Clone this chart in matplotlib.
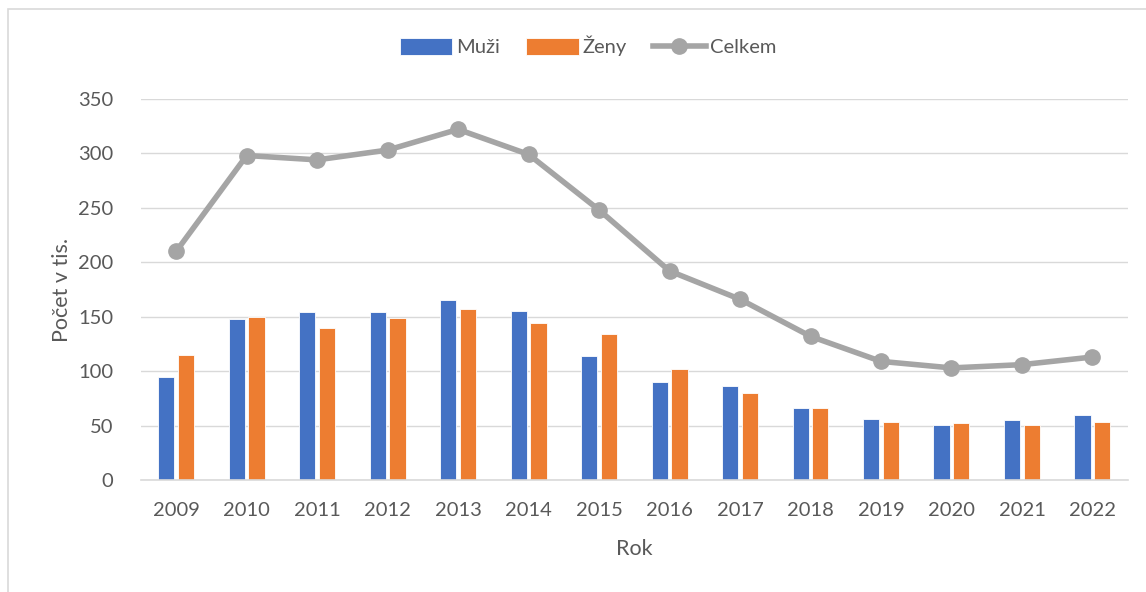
import matplotlib
matplotlib.use("Agg")
import matplotlib.pyplot as plt
import numpy as np
from matplotlib.patches import Rectangle

years = ["2009", "2010", "2011", "2012", "2013", "2014", "2015",
         "2016", "2017", "2018", "2019", "2020", "2021", "2022"]
muzi = [95, 148, 154, 154, 165, 155, 114, 90, 86, 66, 56, 51, 55, 60]
zeny = [115, 150, 140, 149, 157, 144, 134, 102, 80, 66, 53, 52, 51, 53]
celkem = [210, 298, 294, 303, 322, 299, 248, 192, 166, 132, 109, 103, 106, 113]

plt.rcParams["font.family"] = ["Lato", "DejaVu Sans"]
text_col = "#595959"

fig = plt.figure(figsize=(11.46, 5.92), dpi=100)
ax = fig.add_axes([0.123, 0.189, 0.861, 0.644])

x = np.arange(len(years))
w = 0.23
b1 = ax.bar(x - 0.14, muzi, w, color="#4472C4", edgecolor="white",
            linewidth=0.6, label="Muži", zorder=2)
b2 = ax.bar(x + 0.14, zeny, w, color="#ED7D31", edgecolor="white",
            linewidth=0.6, label="Ženy", zorder=2)
l1, = ax.plot(x, celkem, color="#A5A5A5", linewidth=4, marker="o",
              markersize=11, label="Celkem", zorder=3)

ax.set_xlim(-0.5, len(years) - 0.5)
ax.set_ylim(0, 350)
ax.set_yticks(range(0, 351, 50))
ax.set_xticks(x)
ax.set_xticklabels(years)
ax.tick_params(length=0, labelsize=14.5, colors=text_col, pad=16)
ax.tick_params(axis="y", pad=20)
ax.grid(axis="y", color="#D9D9D9", linewidth=1, zorder=0)
for s in ["top", "right", "left"]:
    ax.spines[s].set_visible(False)
ax.spines["bottom"].set_color("#D9D9D9")
ax.spines["bottom"].set_linewidth(1.2)

ax.set_xlabel("Rok", fontsize=15.5, color=text_col, labelpad=14)
ax.set_ylabel("Počet v tis.", fontsize=15.5, color=text_col, labelpad=4)

leg = fig.legend([b1, b2, l1], ["Muži", "Ženy", "Celkem"], loc="center",
                 bbox_to_anchor=(0.513, 1 - 46 / 592), ncol=3,
                 frameon=False, fontsize=14.5, handlelength=2.6,
                 handleheight=0.9, columnspacing=1.3, handletextpad=0.2)
for t in leg.get_texts():
    t.set_color(text_col)

fig.patches.append(Rectangle((8 / 1146, -0.01), 1.0, 1 - 9 / 592 + 0.01,
                             transform=fig.transFigure, fill=False,
                             edgecolor="#D9D9D9", linewidth=1.2))

fig.savefig("out.png", dpi=100, facecolor="white")
